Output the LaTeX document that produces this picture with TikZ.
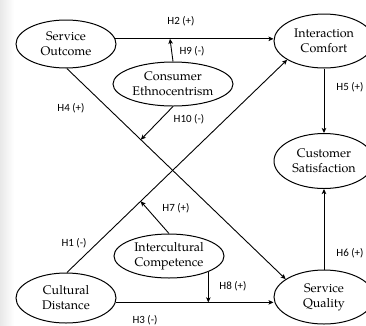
\documentclass[tikz,border=0pt]{standalone}
\usepackage{fontspec}
\usetikzlibrary{shapes.geometric,arrows.meta,calc}
\newfontfamily\labfont{Carlito}
\newfontfamily\nodefont{TeX Gyre Pagella}
\begin{document}
\begin{tikzpicture}[x=1pt,y=-1pt,
  construct/.style={ellipse,draw,line width=1pt,inner sep=0pt,align=center,
    font=\nodefont\fontsize{12.5}{15}\selectfont},
  arr/.style={line width=0.9pt,-{Stealth[length=5pt,width=4.5pt,inset=1.2pt]}},
  hlab/.style={font=\labfont\fontsize{11}{13}\selectfont,inner sep=0pt}]
\useasboundingbox (0,0) rectangle (366,325);
\clip (0,0) rectangle (366,325);
\shade[left color=black!9, right color=white] (0,0) rectangle (14,325);

\node[construct,minimum width=100pt,minimum height=48pt] (so) at (66,44) {Service\\Outcome};
\node[construct,minimum width=100pt,minimum height=54pt] (ic) at (324,41) {Interaction\\Comfort};
\node[construct,minimum width=100pt,minimum height=55pt] (cs) at (324,161) {Customer\\Satisfaction};
\node[construct,minimum width=100pt,minimum height=54pt] (sq) at (324,297) {Service\\Quality};
\node[construct,minimum width=100pt,minimum height=50pt] (cd) at (66,298) {Cultural\\Distance};
\node[construct,minimum width=120pt,minimum height=44pt] (ce) at (173,84) {Consumer\\Ethnocentrism};
\node[construct,minimum width=110pt,minimum height=44pt] (ico) at (169,256) {Intercultural\\Competence};

\coordinate (h2pt) at ([xshift=-3pt]ce.north |- so.6);
\coordinate (h4pt) at ($(so.-88)!0.338!(sq.155)$);
\coordinate (h1pt) at ($(cd.88)!0.335!(ic.-153)$);
\coordinate (h3pt) at (ico.-22 |- cd.-5);

\draw[arr] (so.6) -- (so.6 -| ic.west);
\draw[arr] (ce.north) -- (h2pt);
\draw[arr] (so.-88) -- (sq.155);
\draw[arr] (ce.south) -- (h4pt);
\draw[arr] (cd.88) -- (ic.-153);
\draw[arr] (ico.north) -- (h1pt);
\draw[arr] (cd.-5) -- (cd.-5 -| sq.west);
\draw[arr] (ico.-22) -- (h3pt);
\draw[arr] (ic.south) -- (cs.north);
\draw[arr] (sq.north) -- (cs.south);

\node[hlab] (l2) at (181,21) {H2 (+)};
\node[hlab] (l9) at (192,51) {H9 (-)};
\node[hlab] (l4) at (71,108) {H4 (+)};
\node[hlab] (l10) at (189,119) {H10 (-)};
\node[hlab] (l5) at (350,87) {H5 (+)};
\node[hlab] (l1) at (74,243) {H1 (-)};
\node[hlab] (l7) at (176,208) {H7 (+)};
\node[hlab] (l8) at (233,286) {H8 (+)};
\node[hlab] (l3) at (145,320) {H3 (-)};
\node[hlab] (l6) at (350,253) {H6 (+)};
\end{tikzpicture}
\end{document}
